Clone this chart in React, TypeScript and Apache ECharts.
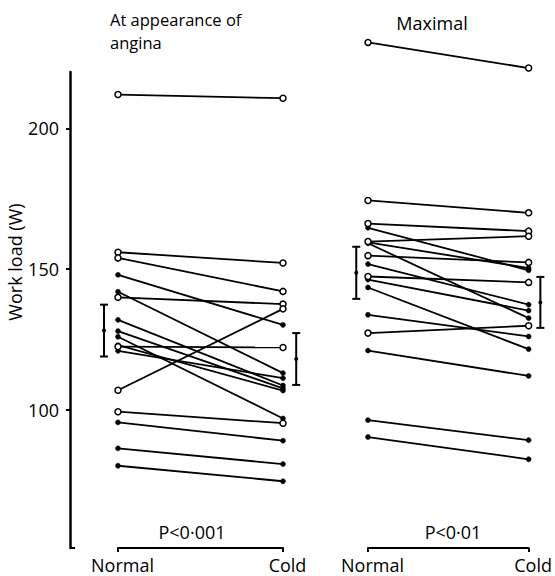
import React, { useEffect, useRef } from 'react';
import * as echarts from 'echarts';

const conditions = ['Normal', 'Cold'];
const yTicks = [100, 150, 200];

// At appearance of angina (W)
const anginaNormal = [212, 156, 154, 148, 142, 140, 107, 122.5, 132, 128, 126, 123, 121, 99.4, 95.6, 86.4, 80.2];
const anginaCold = [210.7, 152.2, 142.1, 130.2, 113.1, 137.6, 135.9, 122.2, 108.7, 107.7, 97, 106.9, 111.3, 95.3, 89.1, 80.8, 74.7];
const anginaOpen = [1, 1, 1, 0, 0, 1, 1, 1, 0, 0, 0, 0, 0, 1, 0, 0, 0];

// Maximal (W)
const maxNormal = [230.5, 174.4, 166.2, 164.7, 159.8, 159.5, 159.2, 154.8, 151.8, 147.4, 146.3, 143.5, 133.8, 127.3, 121.1, 96.4, 90.4];
const maxCold = [221.4, 170, 163.5, 149.6, 161.7, 150.4, 132.6, 152.4, 137.4, 145.3, 135.3, 121.6, 126.1, 129.9, 112.1, 89.3, 82.5];
const maxOpen = [1, 1, 1, 0, 1, 0, 0, 1, 0, 1, 0, 0, 0, 1, 0, 0, 0];

// mean ± SE bars: [x position, mean, SE]
const anginaBars = [[-0.085, 128.2, 9.2], [1.08, 118.1, 9.2]];
const maxBars = [[-0.073, 148.7, 9.25], [1.073, 138.2, 9.05]];

const pValues = ['P<0·001', 'P<0·01'];
const panelTitles = ['At appearance of', 'angina', 'Maximal'];
const yName = 'Work load (W)';

const FONT = 'Open Sans';
const FS = 18;

function pairSeries(normal: number[], cold: number[], open: number[], gi: number) {
  return normal.map((n, i) => ({
    type: 'line',
    xAxisIndex: gi,
    yAxisIndex: gi,
    clip: false,
    silent: true,
    data: [[0, n], [1, cold[i]]],
    symbol: 'circle',
    symbolSize: open[i] ? 6 : 5,
    showSymbol: true,
    itemStyle: open[i]
      ? { color: '#fff', borderColor: '#000', borderWidth: 1.5 }
      : { color: '#000', borderColor: '#000', borderWidth: 0.5 },
    lineStyle: { color: '#000', width: 1.8 },
    z: open[i] ? 3 : 2,
  }));
}

function barSeries(bars: number[][], gi: number) {
  return {
    type: 'custom',
    xAxisIndex: gi,
    yAxisIndex: gi,
    clip: false,
    silent: true,
    data: bars,
    encode: { x: 0, y: 1 },
    renderItem: (_p: any, api: any) => {
      const x = api.value(0);
      const m = api.value(1);
      const se = api.value(2);
      const t = api.coord([x, m + se]);
      const b = api.coord([x, m - se]);
      const c = api.coord([x, m]);
      const st = { stroke: '#000', lineWidth: 2 };
      return {
        type: 'group',
        children: [
          { type: 'line', shape: { x1: t[0], y1: t[1], x2: b[0], y2: b[1] }, style: st },
          { type: 'line', shape: { x1: t[0] - 4, y1: t[1], x2: t[0] + 4, y2: t[1] }, style: st },
          { type: 'line', shape: { x1: b[0] - 4, y1: b[1], x2: b[0] + 4, y2: b[1] }, style: st },
          { type: 'circle', shape: { cx: c[0], cy: c[1], r: 2 }, style: { fill: '#000' } },
        ],
      };
    },
  };
}

function xAxisDef(gi: number) {
  return {
    type: 'value',
    gridIndex: gi,
    min: 0,
    max: 1,
    interval: 1,
    axisLine: { show: true, onZero: false, lineStyle: { color: '#000', width: 2 } },
    axisTick: { show: true, length: 4, lineStyle: { color: '#000', width: 2 } },
    axisLabel: {
      margin: 8,
      color: '#000',
      fontSize: FS,
      fontFamily: FONT,
      padding: [0, 0, 0, 9],
      formatter: (v: number) => conditions[Math.round(v)] ?? '',
    },
    splitLine: { show: false },
  };
}

export default function App() {
  const ref = useRef<HTMLDivElement>(null);
  useEffect(() => {
    if (!ref.current) return;
    const chart = echarts.init(ref.current, null, { renderer: 'svg' });
    const txt = (text: string, x: number, y: number, align: string, fs: number = FS) => ({
      type: 'text',
      x,
      y,
      style: { text, fontSize: fs, fontFamily: FONT, fill: '#000', textAlign: align, textVerticalAlign: 'middle' },
    });
    const option: any = {
      animation: false,
      backgroundColor: '#fff',
      grid: [
        { left: 118, top: 72, width: 165, height: 476 },
        { left: 368, top: 72, width: 164, height: 476 },
      ],
      xAxis: [xAxisDef(0), xAxisDef(1)],
      yAxis: [
        {
          type: 'value',
          gridIndex: 0,
          min: 51,
          max: 220,
          offset: 48,
          axisLine: { show: true, onZero: false, lineStyle: { color: '#000', width: 2.5 } },
          axisTick: { show: true, length: 4, customValues: yTicks, lineStyle: { color: '#000', width: 2 } },
          axisLabel: { customValues: yTicks, margin: 11, color: '#000', fontSize: FS, fontFamily: FONT },
          splitLine: { show: false },
        },
        { type: 'value', gridIndex: 1, min: 51, max: 220, show: false, splitLine: { show: false } },
      ],
      graphic: [
        txt(panelTitles[0], 110, 19, 'left', 16.5),
        txt(panelTitles[1], 110, 42, 'left', 16.5),
        txt(panelTitles[2], 432, 23, 'center'),
        txt(pValues[0], 192, 532, 'center'),
        txt(pValues[1], 453, 532, 'center'),
        { ...txt(yName, 15, 262, 'center'), rotation: Math.PI / 2 },
        { type: 'line', shape: { x1: 70, y1: 548, x2: 75, y2: 548 }, style: { stroke: '#000', lineWidth: 2 } },
      ],
      series: [
        ...pairSeries(anginaNormal, anginaCold, anginaOpen, 0),
        ...pairSeries(maxNormal, maxCold, maxOpen, 1),
        barSeries(anginaBars, 0),
        barSeries(maxBars, 1),
      ],
    };
    chart.setOption(option);
    return () => chart.dispose();
  }, []);
  return <div ref={ref} style={{ position: 'fixed', left: 0, top: 0, width: 555, height: 576 }} />;
}
